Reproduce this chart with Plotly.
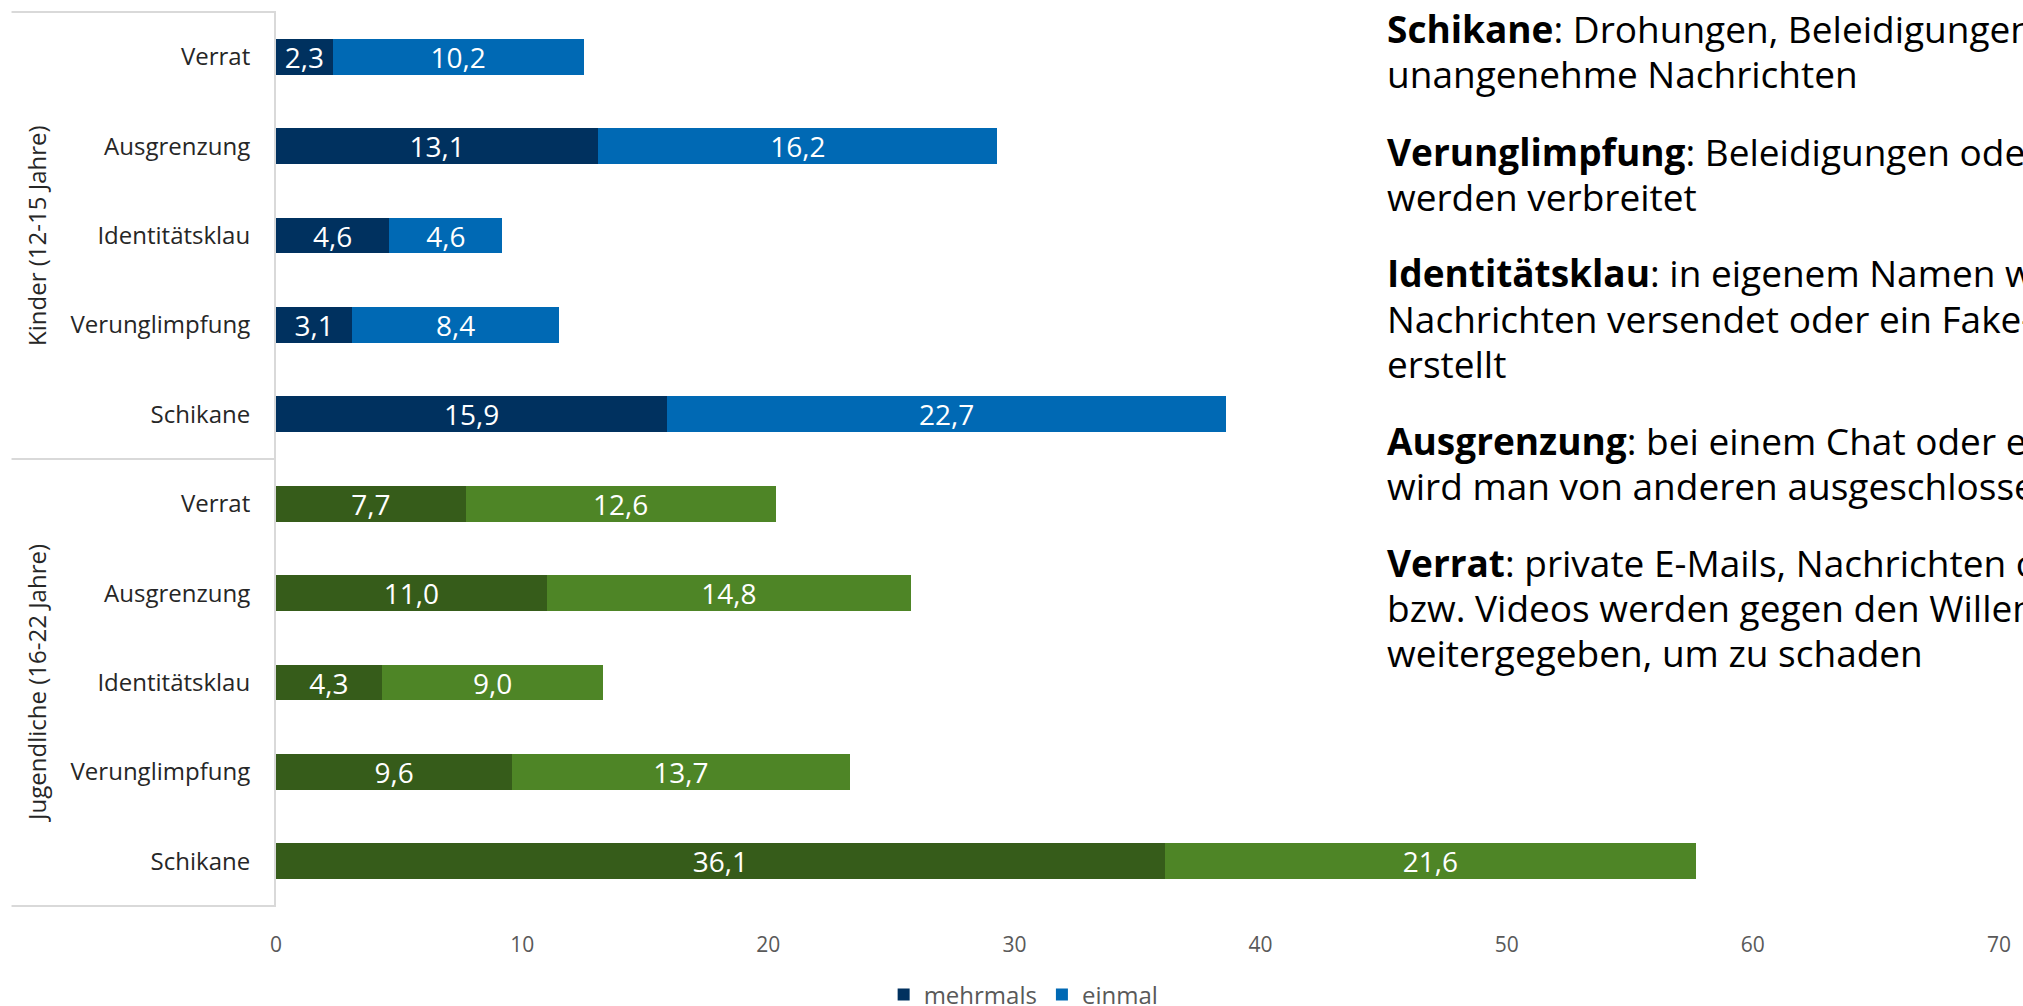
import plotly.graph_objects as go
from plotly.subplots import make_subplots

# Categories of cyberbullying, top to bottom within each age group
categories = ["Verrat", "Ausgrenzung", "Identitätsklau", "Verunglimpfung", "Schikane"]

# Kinder (12-15 Jahre), in percent
kinder_mehrmals = [2.3, 13.1, 4.6, 3.1, 15.9]
kinder_einmal = [10.2, 16.2, 4.6, 8.4, 22.7]

# Jugendliche (16-22 Jahre), in percent
jugend_mehrmals = [7.7, 11.0, 4.3, 9.6, 36.1]
jugend_einmal = [12.6, 14.8, 9.0, 13.7, 21.6]

group_titles = ["Kinder (12-15 Jahre)", "Jugendliche (16-22 Jahre)"]
series_names = ["mehrmals", "einmal"]
x_ticks = [0, 10, 20, 30, 40, 50, 60, 70]

# Definitions: bold term, rest of first line, following lines
definitions = [
    ("Schikane", ": Drohungen, Beleidigungen oder",
     ["unangenehme Nachrichten"]),
    ("Verunglimpfung", ": Beleidigungen oder Gerüchte",
     ["werden verbreitet"]),
    ("Identitätsklau", ": in eigenem Namen werden",
     ["Nachrichten versendet oder ein Fake-Profil", "erstellt"]),
    ("Ausgrenzung", ": bei einem Chat oder einer Gruppe",
     ["wird man von anderen ausgeschlossen"]),
    ("Verrat", ": private E-Mails, Nachrichten oder Fotos",
     ["bzw. Videos werden gegen den Willen", "weitergegeben, um zu schaden"]),
]

W, H = 2023, 1006
ML, MR, MT, MB = 276, 14, 12, 100
FONT = "Open Sans"
GRID = "#d9d9d9"

colors = {
    "kinder": ["#00315f", "#0069b4"],
    "jugend": ["#365c1a", "#4e8526"],
}

plot_w = W - ML - MR
plot_h = H - MT - MB


def px_to_paper_x(px):
    return (px - ML) / plot_w


def px_to_paper_y(py):
    return (H - MB - py) / plot_h


fig = make_subplots(rows=2, cols=1, shared_xaxes=True, vertical_spacing=0)

groups = [
    (1, [kinder_mehrmals, kinder_einmal], colors["kinder"], True),
    (2, [jugend_mehrmals, jugend_einmal], colors["jugend"], False),
]
for row, values, cols, legend in groups:
    for name, vals, col in zip(series_names, values, cols):
        fig.add_trace(
            go.Bar(
                y=categories,
                x=vals,
                name=name,
                orientation="h",
                marker=dict(color=col, line=dict(width=0)),
                texttemplate="%{x:.1f}",
                textposition="inside",
                insidetextanchor="middle",
                textangle=0,
                constraintext="none",
                insidetextfont=dict(family=FONT, size=28, color="white"),
                showlegend=legend,
                hoverinfo="skip",
            ),
            row=row,
            col=1,
        )

fig.update_layout(
    width=W,
    height=H,
    margin=dict(l=ML, r=MR, t=MT, b=MB),
    barmode="stack",
    bargap=0.6,
    separators=",.",
    paper_bgcolor="white",
    plot_bgcolor="white",
    font=dict(family=FONT, size=24, color="#262626"),
    legend=dict(
        orientation="h",
        xref="container",
        yref="container",
        x=0.506,
        xanchor="center",
        y=0.011,
        yanchor="middle",
        font=dict(family=FONT, size=24, color="#595959"),
        traceorder="normal",
        itemwidth=30,
        tracegroupgap=0,
    ),
)

for r in (1, 2):
    fig.update_yaxes(
        categoryorder="array",
        categoryarray=categories,
        autorange="reversed",
        showline=True,
        linecolor=GRID,
        linewidth=2,
        showgrid=False,
        ticks="",
        ticklabelstandoff=19,
        tickfont=dict(family=FONT, size=24, color="#262626"),
        row=r,
        col=1,
    )
    fig.update_xaxes(
        range=[0, 70],
        tickvals=x_ticks,
        showgrid=False,
        zeroline=False,
        showline=False,
        ticks="",
        row=r,
        col=1,
    )
fig.update_xaxes(
    showticklabels=True,
    ticklabelstandoff=24,
    tickfont=dict(family=FONT, size=21, color="#595959"),
    row=2,
    col=1,
)

# Group divider lines to the left of the category axis
x_left = px_to_paper_x(10)
for yv in (0, 0.5, 1):
    fig.add_shape(
        type="line",
        xref="paper",
        yref="paper",
        x0=x_left,
        x1=0,
        y0=yv,
        y1=yv,
        line=dict(color=GRID, width=2),
    )

# Rotated age-group titles
x_title = px_to_paper_x(35)
for title, yc in zip(group_titles, (0.75, 0.25)):
    fig.add_annotation(
        text=title,
        xref="paper",
        yref="paper",
        x=x_title,
        y=yc,
        xanchor="center",
        yanchor="middle",
        textangle=-90,
        showarrow=False,
        font=dict(family=FONT, size=24, color="#262626"),
    )

# Definitions block on the right, one annotation per text line
first_line_centers = [28, 151, 273, 440, 562]
line_step = 45.2
for (term, rest, more), yc in zip(definitions, first_line_centers):
    lines = [f"<b>{term}</b>{rest}"] + more
    for i, line in enumerate(lines):
        fig.add_annotation(
            text=line,
            xref="paper",
            yref="paper",
            x=px_to_paper_x(1392),
            y=px_to_paper_y(yc + i * line_step),
            xanchor="left",
            yanchor="middle",
            align="left",
            showarrow=False,
            borderpad=0,
            font=dict(family=FONT, size=37, color="black"),
        )

fig.write_html("out.html")
